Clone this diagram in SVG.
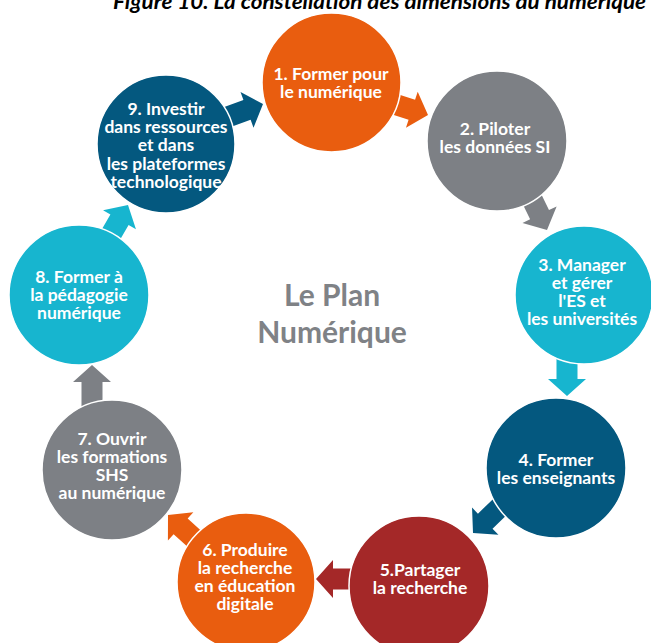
<svg xmlns="http://www.w3.org/2000/svg" width="651" height="643" viewBox="0 0 651 643">
  <style>
    .node circle { stroke: #ffffff; stroke-width: 1.5; }
    .node text { font-family: Lato, "Open Sans", "Liberation Sans", sans-serif; font-weight: bold; font-size: 17.5px; fill: #ffffff; text-anchor: middle; }
    .title { font-family: Lato, "Liberation Sans", sans-serif; font-weight: bold; font-style: italic; font-size: 20px; fill: #000000; }
    .center { font-family: Lato, "Open Sans", "Liberation Sans", sans-serif; font-weight: bold; font-size: 30px; fill: #7f8286; text-anchor: middle; }
    .orange { fill: #e95d0f; }
    .gray { fill: #7d8085; }
    .cyan { fill: #17b5cf; }
    .blue { fill: #04587f; }
    .red { fill: #a42828; }
  </style>
  <defs>
    <polygon id="arr" points="0,0 -17,-19 -17,-10.5 -44,-10.5 -44,10.5 -17,10.5 -17,19"/>
  </defs>
  <rect width="651" height="643" fill="#ffffff"/>
  <text class="title" x="113" y="9" textLength="533" lengthAdjust="spacingAndGlyphs">Figure 10. La constellation des dimensions du numérique</text>

  <g id="connectors">
    <use href="#arr" class="blue" transform="translate(263,104) rotate(-20)"/>
    <use href="#arr" class="orange" transform="translate(428,115) rotate(18)"/>
    <use href="#arr" class="gray" transform="translate(547,230) rotate(64)"/>
    <use href="#arr" class="cyan" transform="translate(567,396) rotate(90)"/>
    <use href="#arr" class="blue" transform="translate(473,533) rotate(136)"/>
    <use href="#arr" class="red" transform="translate(316,579) rotate(180)"/>
    <use href="#arr" class="orange" transform="translate(168,515) rotate(-138)"/>
    <use href="#arr" class="gray" transform="translate(92,365) rotate(-90)"/>
    <use href="#arr" class="cyan" transform="translate(128,205) rotate(-60)"/>
  </g>

  <g id="node1" class="node">
    <circle class="orange" cx="331.5" cy="82.5" r="69.5"/>
    <text x="331" y="80">1. Former pour</text>
    <text x="331" y="98">le numérique</text>
  </g>
  <g id="node2" class="node">
    <circle class="gray" cx="497" cy="141" r="70"/>
    <text x="495" y="135">2. Piloter</text>
    <text x="495" y="153">les données SI</text>
  </g>
  <g id="node3" class="node">
    <circle class="cyan" cx="584" cy="295" r="69"/>
    <text x="582" y="271">3. Manager</text>
    <text x="582" y="289">et gérer</text>
    <text x="582" y="307">l'ES et</text>
    <text x="582" y="325">les universités</text>
  </g>
  <g id="node4" class="node">
    <circle class="blue" cx="556" cy="468" r="70"/>
    <text x="556" y="466">4. Former</text>
    <text x="556" y="484">les enseignants</text>
  </g>
  <g id="node5" class="node">
    <circle class="red" cx="419" cy="586" r="70"/>
    <text x="420" y="576">5.Partager</text>
    <text x="420" y="594">la recherche</text>
  </g>
  <g id="node6" class="node">
    <circle class="orange" cx="246" cy="582" r="69"/>
    <text x="245" y="556">6. Produire</text>
    <text x="245" y="574">la recherche</text>
    <text x="245" y="592">en éducation</text>
    <text x="245" y="610">digitale</text>
  </g>
  <g id="node7" class="node">
    <circle class="gray" cx="112" cy="470" r="70"/>
    <text x="112" y="445">7. Ouvrir</text>
    <text x="112" y="463">les formations</text>
    <text x="112" y="481">SHS</text>
    <text x="112" y="499">au numérique</text>
  </g>
  <g id="node8" class="node">
    <circle class="cyan" cx="79" cy="295" r="70"/>
    <text x="79" y="283">8. Former à</text>
    <text x="79" y="301">la pédagogie</text>
    <text x="79" y="319">numérique</text>
  </g>
  <g id="node9" class="node">
    <circle class="blue" cx="166" cy="144" r="69"/>
    <text x="166" y="115">9. Investir</text>
    <text x="166" y="133">dans ressources</text>
    <text x="166" y="151">et dans</text>
    <text x="166" y="170">les plateformes</text>
    <text x="166" y="188">technologique</text>
  </g>

  <g id="center-label">
    <text class="center" x="332" y="306">Le Plan</text>
    <text class="center" x="332" y="343">Numérique</text>
  </g>
</svg>
